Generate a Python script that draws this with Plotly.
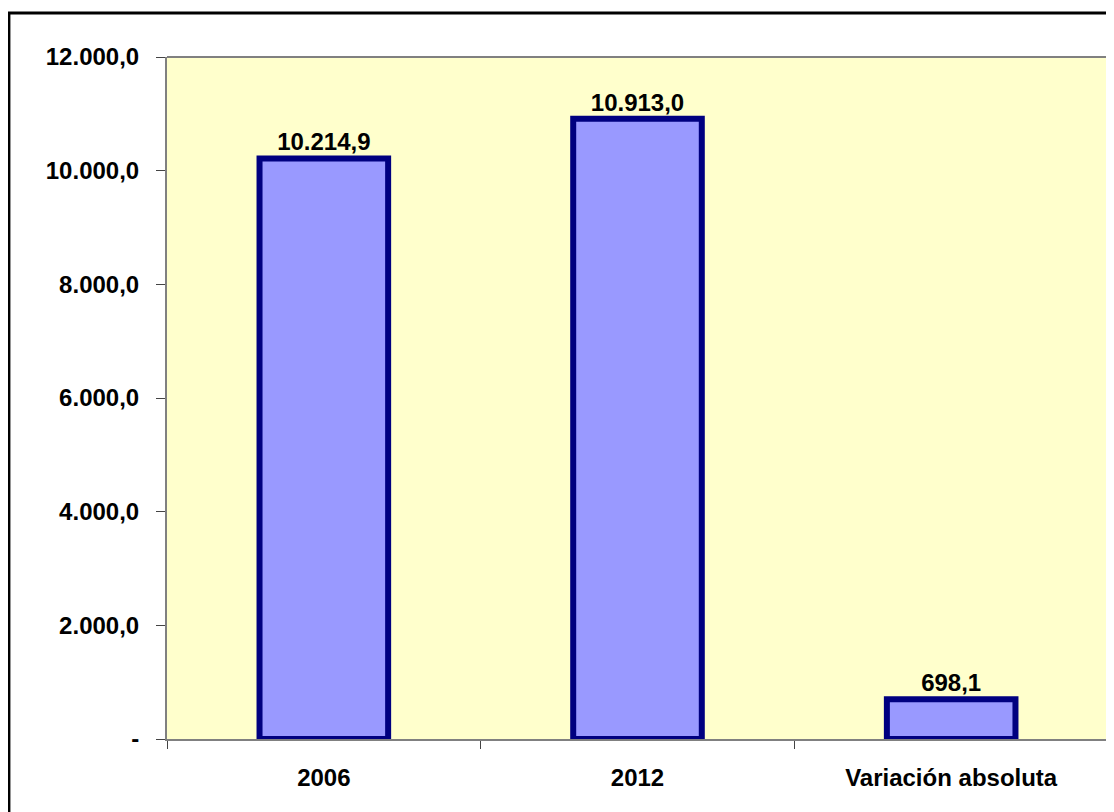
import plotly.graph_objects as go

categories = ["2006", "2012", "Variación absoluta"]
values = [10214.9, 10913.0, 698.1]
y_ticks = [0, 2000, 4000, 6000, 8000, 10000, 12000]


def fmt_es(v):
    # 10214.9 -> "10.214,9"
    s = f"{v:,.1f}"
    return s.replace(",", "X").replace(".", ",").replace("X", ".")


y_ticktext = ["-" if t == 0 else fmt_es(t) for t in y_ticks]
bar_text = [fmt_es(v) for v in values]

FONT = "Arial, Liberation Sans, sans-serif"

fig = go.Figure()
fig.add_trace(go.Bar(
    x=categories,
    y=values,
    width=0.41,
    marker=dict(color="#9999FF", line=dict(color="#000080", width=6)),
    text=bar_text,
    textposition="outside",
    cliponaxis=False,
    textfont=dict(family=FONT, size=24, color="black", weight="bold"),
))

# the page body adds an 8px margin, so the figure is sized 8px smaller
fig.update_layout(
    width=1106,
    height=804,
    margin=dict(l=159, r=6, t=49, b=73),
    paper_bgcolor="white",
    plot_bgcolor="#FFFFCC",
    showlegend=False,
    font=dict(family=FONT, size=24, color="black", weight="bold"),
    xaxis=dict(
        type="category",
        tickson="boundaries",
        ticks="outside",
        ticklen=8,
        tickcolor="#444444",
        showline=True,
        linecolor="#808080",
        linewidth=2,
        showgrid=False,
        ticklabelstandoff=16,
    ),
    yaxis=dict(
        range=[0, 12000],
        tickvals=y_ticks,
        ticktext=y_ticktext,
        ticks="outside",
        ticklen=9,
        tickcolor="#444444",
        showline=True,
        linecolor="#808080",
        linewidth=2,
        showgrid=False,
        zeroline=False,
        ticklabelstandoff=12,
    ),
    shapes=[
        # top border of plot area
        dict(type="line", xref="paper", yref="paper", x0=0, x1=1, y0=1, y1=1,
             line=dict(color="#808080", width=2)),
        # right border of plot area
        dict(type="line", xref="paper", yref="paper", x0=1, x1=1, y0=0, y1=1,
             line=dict(color="#808080", width=2)),
        # outer chart frame
        dict(type="rect", xref="paper", yref="paper",
             x0=-0.168, x1=1.05, y0=-0.15, y1=1.0645,
             line=dict(color="black", width=3)),
    ],
)

fig.write_html("out.html")
